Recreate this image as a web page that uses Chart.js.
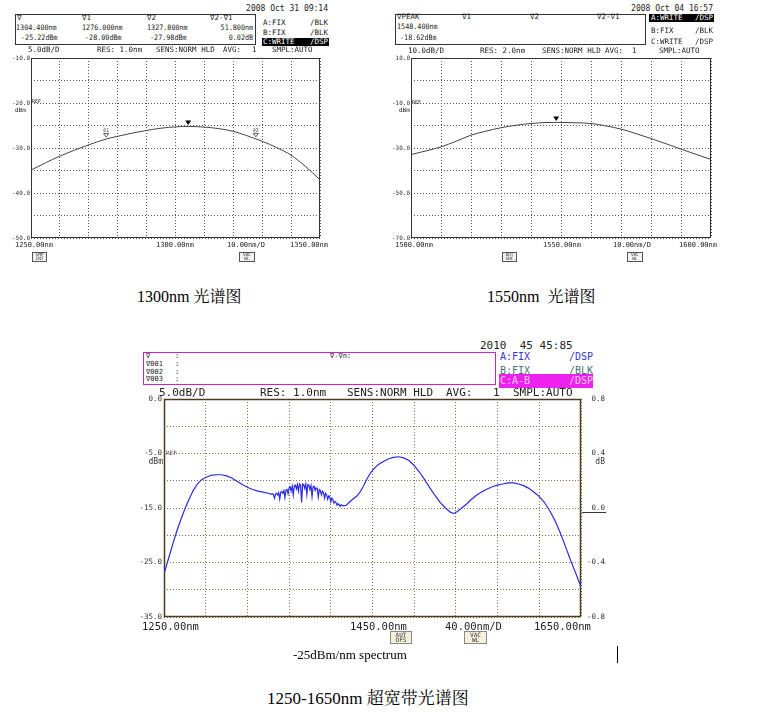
<!DOCTYPE html>
<html><head><meta charset="utf-8">
<script src="https://cdn.jsdelivr.net/npm/chart.js@4.4.1/dist/chart.umd.min.js"></script>
<style>
html,body{margin:0;padding:0;background:#fff;}
body{width:764px;height:712px;position:relative;overflow:hidden;font-family:"DejaVu Sans Mono",monospace;}
.t{position:absolute;white-space:pre;line-height:1;color:#222;}
.box{position:absolute;box-sizing:border-box;}
canvas{position:absolute;}
.serif{font-family:"Liberation Serif","Noto Serif CJK SC","Noto Sans CJK SC",serif;color:#000;}
</style></head>
<body>
<canvas id="c1300" width="330" height="200" style="left:0px;top:48px"></canvas>
<canvas id="c1550" width="341" height="200" style="left:380px;top:48px"></canvas>
<canvas id="cBroad" width="485" height="238" style="left:130px;top:389px"></canvas>
<script>
// ---------- DATA ----------
const wl1300 = [1250,1255,1260,1265,1270,1276,1280,1285,1290,1295,1300,1304.4,1310,1315,1320,1327.8,1330,1335,1340,1345,1350];
const p1300  = [-34.9,-33.3,-31.8,-30.5,-29.3,-28.0,-27.4,-26.7,-26.1,-25.6,-25.3,-25.22,-25.35,-25.7,-26.3,-27.98,-28.5,-29.9,-31.6,-34.1,-37.1];
const markers1300 = [{x:1304.4,y:-25.22,kind:'peak'},{x:1276.0,y:-28.00,kind:'m',label:'01'},{x:1327.8,y:-27.98,kind:'m',label:'02'}];

const wl1550 = [1500,1505,1510,1515,1520,1525,1530,1535,1540,1545,1548.4,1555,1560,1565,1570,1575,1580,1585,1590,1595,1600];
const p1550  = [-32.9,-31.3,-29.5,-27.0,-24.3,-22.5,-21.0,-19.9,-19.1,-18.7,-18.62,-18.8,-19.1,-20.2,-21.6,-23.6,-25.8,-28.1,-30.5,-32.8,-35.1];
const markers1550 = [{x:1548.4,y:-18.62,kind:'peak'}];

const wlBroad = [1250,1254,1258,1262,1266,1270,1274,1278,1282,1286,1290,1295,1300,1305,1310,1315,1320,1325,1330,1335,1340,1345,1350,
 1352,1353,1354,1355,1356,1357,1358,1359,1360,1361,1362,1363,1364,1365,1366,1367,1368,1369,1370,1371,1372,1373,1374,1375,1376,1377,1378,1379,1380,
 1381,1382,1383,1384,1385,1386,1387,1388,1389,1390,1391,1392,1393,1394,1395,1396,1397,1398,1399,1400,1401,1402,1403,1404,1405,1406,1407,1408,1409,1410,
 1411,1412,1413,1414,1415,1416,1417,1418,1419,1420,1422,1425,1428,1431,1435,1438,1441,1444,1447,1450,1455,1460,1465,1470,1475,1480,1485,1490,1495,1500,
 1505,1510,1515,1520,1525,1528,1531,1535,1540,1545,1550,1555,1560,1565,1570,1575,1580,1585,1590,1595,1600,1605,1610,1615,1620,1625,1630,1635,1640,1645,1650];
const pBroad = [-27.1,-24.5,-21.9,-19.4,-17.2,-15.2,-13.4,-11.8,-10.6,-9.8,-9.4,-9.0,-8.9,-8.9,-9.1,-9.5,-10.1,-10.7,-11.2,-11.6,-11.9,-12.1,-12.3,
 -12.4,-12.5,-12.4,-12.6,-13.2,-12.4,-12.3,-12.6,-12.2,-13.4,-12.1,-12.0,-12.3,-11.8,-13.1,-11.7,-11.6,-12.4,-11.3,-11.1,-11.9,-11.0,-12.6,-10.9,-10.8,-11.5,-10.7,-11.9,-10.6,
 -10.8,-14.0,-10.6,-10.7,-11.4,-10.6,-12.5,-10.7,-10.8,-11.6,-10.9,-12.9,-11.1,-11.0,-11.8,-11.3,-11.4,-13.0,-11.6,-11.8,-12.6,-11.9,-12.2,-13.2,-12.3,-12.6,-13.4,-12.8,-13.0,-13.9,
 -13.2,-13.5,-14.1,-13.8,-14.0,-14.5,-14.2,-14.4,-14.7,-14.4,-14.6,-14.5,-13.9,-13.4,-12.8,-12.1,-11.1,-9.9,-8.9,-8.1,-7.1,-6.5,-6.0,-5.7,-5.6,-5.8,-6.3,-7.2,-8.4,-9.8,
 -11.3,-12.7,-14.0,-15.0,-15.8,-16.0,-15.7,-15.1,-14.3,-13.4,-12.6,-12.0,-11.5,-11.1,-10.8,-10.6,-10.4,-10.4,-10.6,-10.9,-11.4,-12.1,-12.9,-14.0,-15.5,-17.3,-19.5,-22.0,-24.6,-27.0,-29.5];

const yTicks1300 = [-10,-20,-30,-40,-50];
const yTicks1550 = [10,-10,-30,-50,-70];
const yTickValsBroad = [5,-5,-15,-25,-35];
const yTickLabelsBroad = ["0.0","-5.0","-15.0","-25.0","-35.0"];
const y2TicksBroad = [0.8,0.4,0.0,-0.4,-0.8];
const xLabels1300 = ["1250.00nm","1300.00nm","10.00nm/D","1350.00nm"];
const xLabels1550 = ["1500.00nm","1550.00nm","10.00nm/D","1600.00nm"];
const xLabelsBroad = ["1250.00nm","1450.00nm","40.00nm/D","1650.00nm"];

// ---------- helpers ----------
function T(txt,x,y,size,o={}){
  const d=document.createElement('div'); d.className='t'+(o.cls?' '+o.cls:''); d.textContent=txt;
  d.style.fontSize=size+'px';
  const a=o.align||'left';
  if(a==='right'){ d.style.right=(764-x)+'px'; d.style.transformOrigin='right center'; }
  else { d.style.left=x+'px'; d.style.transformOrigin=(a==='center'?'center center':'left center'); }
  d.style.top=y+'px';
  d.style.transform=`translate(${a==='center'?'-50%':'0'},-50%) scaleX(${o.sx||1})`;
  if(o.color) d.style.color=o.color;
  if(o.weight) d.style.fontWeight=o.weight;
  document.body.appendChild(d); return d;
}
function R(x,y,w,h,o={}){
  const d=document.createElement('div'); d.className='box';
  Object.assign(d.style,{left:x+'px',top:y+'px',width:w+'px',height:h+'px'});
  if(o.border) d.style.border=o.border;
  if(o.bg) d.style.background=o.bg;
  document.body.appendChild(d); return d;
}
function tagBox(x,y,w,h,l1,l2,size,o={}){
  R(x,y,w,h,{border:'1px solid '+(o.bc||'#555'),bg:o.bg||'#f2f2f2'});
  T(l1,x+w/2,y+h*0.3,size,{align:'center',color:o.color||'#333'});
  T(l2,x+w/2,y+h*0.72,size,{align:'center',color:o.color||'#333'});
}

const framePlugin={id:'frame',beforeDatasetsDraw(chart,args,opts){
  const {ctx,chartArea:a}=chart; ctx.save(); ctx.strokeStyle=opts.color; ctx.lineWidth=opts.width||1;
  ctx.strokeRect(Math.round(a.left)+0.5,Math.round(a.top)+0.5,Math.round(a.right-a.left)-1,Math.round(a.bottom-a.top)-1);
  ctx.restore();
}};
const markerPlugin={id:'mk',afterDatasetsDraw(chart,args,opts){
  const {ctx}=chart; const xs=chart.scales.x, ys=chart.scales.y;
  (opts.items||[]).forEach(m=>{
    const px=xs.getPixelForValue(m.x), py=ys.getPixelForValue(m.y);
    ctx.save(); ctx.fillStyle='#000'; ctx.strokeStyle='#333'; ctx.lineWidth=0.8;
    if(m.kind==='peak'){
      ctx.beginPath(); ctx.moveTo(px-3,py-6); ctx.lineTo(px+3,py-6); ctx.lineTo(px,py-1.5); ctx.closePath(); ctx.fill();
    } else {
      ctx.beginPath(); ctx.moveTo(px-2.5,py-5.5); ctx.lineTo(px+2.5,py-5.5); ctx.lineTo(px,py-2); ctx.closePath(); ctx.stroke();
      ctx.fillStyle='#444'; ctx.font='5px "DejaVu Sans Mono"'; ctx.textAlign='center'; ctx.textBaseline='bottom';
      ctx.fillText(m.label,px,py-6);
    }
    ctx.restore();
  });
}};

function makeChart(id,cfg){
  const scales={
    x:{type:'linear',min:cfg.xmin,max:cfg.xmax,
       ticks:{display:false,stepSize:cfg.xstep},
       grid:{color:cfg.grid,lineWidth:1,drawTicks:false},
       border:{display:false,dash:[1,2]}},
    y:{type:'linear',position:'left',min:cfg.ymin,max:cfg.ymax,
       ticks:{stepSize:cfg.ystep,autoSkip:false,callback:cfg.ylab,padding:cfg.ypad,color:cfg.tickColor,
              font:{family:'DejaVu Sans Mono',size:cfg.tickSize}},
       grid:{color:cfg.grid,lineWidth:1,drawTicks:false},
       border:{display:false,dash:[1,2]},
       afterFit:s=>{s.width=cfg.yw;}}
  };
  if(cfg.y2){
    scales.y2={type:'linear',position:'right',min:cfg.y2.min,max:cfg.y2.max,
       ticks:{stepSize:cfg.y2.step,autoSkip:false,crossAlign:'far',padding:0,color:cfg.tickColor,callback:cfg.y2.lab,
              font:{family:'DejaVu Sans Mono',size:cfg.tickSize}},
       grid:{drawOnChartArea:false,drawTicks:false},border:{display:false},
       afterFit:s=>{s.width=cfg.y2.w;}};
  }
  return new Chart(document.getElementById(id),{
    type:'line',
    data:{datasets:[{data:cfg.xs.map((x,i)=>({x,y:cfg.ys[i]})),borderColor:cfg.color,borderWidth:cfg.lw,
      pointRadius:0,fill:false,tension:cfg.mono?0.4:0,cubicInterpolationMode:cfg.mono?'monotone':'default',yAxisID:'y'}]},
    options:{responsive:false,animation:false,events:[],
      layout:{padding:cfg.pad},
      plugins:{legend:{display:false},tooltip:{enabled:false},frame:{color:cfg.frame,width:cfg.frameW},mk:{items:cfg.markers||[]}},
      scales},
    plugins:[framePlugin,markerPlugin]
  });
}

// ---------- charts ----------
makeChart('c1300',{xs:wl1300,ys:p1300,xmin:1250,xmax:1350,xstep:10,ymin:-50,ymax:-10,ystep:5,
  ylab:v=>yTicks1300.includes(v)?v.toFixed(1):'',ypad:1,yw:31,tickSize:6,tickColor:'#333',
  grid:'#555',frame:'#333',frameW:1,color:'#444',lw:1,mono:true,markers:markers1300,
  pad:{top:10,right:10,bottom:10,left:0}});
makeChart('c1550',{xs:wl1550,ys:p1550,xmin:1500,xmax:1600,xstep:10,ymin:-70,ymax:10,ystep:10,
  ylab:v=>yTicks1550.includes(v)?v.toFixed(1):'',ypad:1,yw:31,tickSize:6,tickColor:'#333',
  grid:'#555',frame:'#333',frameW:1,color:'#444',lw:1,mono:true,markers:markers1550,
  pad:{top:10,right:10,bottom:10,left:0}});
makeChart('cBroad',{xs:wlBroad,ys:pBroad,xmin:1250,xmax:1650,xstep:40,ymin:-35,ymax:5,ystep:5,
  ylab:v=>{const i=yTickValsBroad.indexOf(v);return i>=0?yTickLabelsBroad[i]:'';},ypad:2,yw:34,tickSize:7.5,tickColor:'#333',
  grid:'#86703f',frame:'#4d3b1c',frameW:1.5,color:'#2a2ae6',lw:1.2,mono:false,
  y2:{min:-0.8,max:0.8,step:0.4,w:24,lab:v=>{const r=y2TicksBroad.find(t=>Math.abs(t-v)<1e-6);return r===undefined?'':(Math.abs(r)<1e-9?'0.0':r.toFixed(1));}},
  pad:{top:10,right:10,bottom:10,left:0}});

// ---------- texts: 1300 panel ----------
T("2008 Oct 31 09:14",328,9,8,{align:'right'});
R(15,14,241,31,{border:'1px solid #333'});
T("∇",17,18,7.5); T("∇1",82,18,7.5); T("∇2",147,18,7.5); T("∇2-∇1",210,18,7.5);
T("1304.400nm",16,27.5,7.5,{sx:0.9}); T("1276.000nm",82,27.5,7.5,{sx:0.9}); T("1327.800nm",147,27.5,7.5,{sx:0.9}); T("51.800nm",253,27.5,7.5,{align:'right',sx:0.9});
T("-25.22dBm",21,37.5,7.5,{sx:0.9}); T("-28.00dBm",85,37.5,7.5,{sx:0.9}); T("-27.98dBm",150,37.5,7.5,{sx:0.9}); T("0.02dB",253,37.5,7.5,{align:'right',sx:0.9});
T("A:FIX",263,23,7.5); T("/BLK",328,23,7.5,{align:'right'});
T("B:FIX",263,33,7.5); T("/BLK",328,33,7.5,{align:'right'});
R(262,38,67,8,{bg:'#000'});
T("C:WRITE",263,42,7.5,{color:'#fff'}); T("/DSP",328,42,7.5,{align:'right',color:'#fff'});
T("5.0dB/D",28,50,7.5); T("RES: 1.0nm",97,50,7.5); T("SENS:NORM HLD",156,50,7.5); T("AVG:",223,50,7.5); T("1",252,50,7.5); T("SMPL:AUTO",272,50,7.5);
T("REF",32,101,5); T("dBm",15,110,6);
T(xLabels1300[0],15,245,7); T(xLabels1300[1],175,245,7,{align:'center'}); T(xLabels1300[2],227,245,7); T(xLabels1300[3],328,245,7,{align:'right'});
tagBox(32,252,15,10,"SMP","INT",4.5); tagBox(239,252,16,10,"VAC","WL",4.5);
T("1300nm 光谱图",137,297,16,{cls:'serif'});

// ---------- texts: 1550 panel ----------
T("2008 Oct 04 16:57",713,9,8,{align:'right'});
R(395,14,251,31,{border:'1px solid #333'});
T("∇PEAK",397,17,7.5); T("∇1",462,17,7.5); T("∇2",530,17,7.5); T("∇2-∇1",597,17,7.5);
T("1548.400nm",397,27,7.5,{sx:0.9}); T("-18.62dBm",400,37.5,7.5,{sx:0.9});
R(649,14,65,8,{bg:'#000'});
T("A:WRITE",651,18,7.5,{color:'#fff'}); T("/DSP",713,18,7.5,{align:'right',color:'#fff'});
T("B:FIX",651,31,7.5); T("/BLK",713,31,7.5,{align:'right'});
T("C:WRITE",651,42,7.5); T("/DSP",713,42,7.5,{align:'right'});
T("10.0dB/D",408,51,7.5); T("RES: 2.0nm",480,51,7.5); T("SENS:NORM HLD",542,51,7.5); T("AVG:",605,51,7.5); T("1",632,51,7.5); T("SMPL:AUTO",659,51,7.5);
T("REF",412,101.5,5); T("dBm",399,110,6);
T(xLabels1550[0],395,245,7); T(xLabels1550[1],543,245,7); T(xLabels1550[2],613,245,7); T(xLabels1550[3],717,245,7,{align:'right'});
tagBox(502,252,15,10,"AUT","SRC",4.5); tagBox(627,252,16,10,"VAC","WL",4.5);
T("1550nm  光谱图",487,297,16,{cls:'serif'});

// ---------- texts: broadband panel ----------
T("2010  45 45:85",480,345,11,{color:'#222'});
R(143,352,353,33,{border:'1px solid #d21ed2'});
T("∇",146,356,7); T(":",175,356,7);
T("∇001",146,364,7); T(":",175,364,7);
T("∇002",146,371.5,7); T(":",175,371.5,7);
T("∇003",146,379,7); T(":",175,379,7);
T("∇-∇n:",330,356,7);
T("A:FIX",500,357,10,{color:'#3434d4'}); T("/DSP",593,357,10,{align:'right',color:'#3434d4'});
T("B:FIX",500,371,10,{color:'#467474'}); T("/BLK",593,371,10,{align:'right',color:'#467474'});
R(499,374,94,14,{bg:'#ee22ee'});
T("C:A-B",500,381,10,{color:'#ffc8ff'}); T("/DSP",593,381,10,{align:'right',color:'#ffc8ff'});
T("5.0dB/D",159,392,11); T("RES: 1.0nm",260,392,11); T("SENS:NORM HLD",347,392,11); T("AVG:",446,392,11); T("1",493,392,11); T("SMPL:AUTO",513,392,11);
T("REF",166,452.7,6,{color:'#444'}); T("dBm",163,462,8,{align:'right',color:'#333'});
T("dB",605,462,8,{align:'right',color:'#333'});
R(582,512,24,1,{bg:'#333'});
T(xLabelsBroad[0],142,626,10.5); T(xLabelsBroad[1],350,626,10.5); T(xLabelsBroad[2],445,626,10.5); T(xLabelsBroad[3],534,626,10.5);
tagBox(390,631,22,13,"AUT","OFS",6,{bg:'#f3f0dc',bc:'#888'}); tagBox(464,631,23,13,"VAC","WL",6,{bg:'#f3f0dc',bc:'#888'});
T("-25dBm/nm spectrum",293,654,13,{cls:'serif'});
R(617,646,1,17,{bg:'#000'});
T("1250-1650nm 超宽带光谱图",267,698,17,{cls:'serif'});
</script>
</body></html>
